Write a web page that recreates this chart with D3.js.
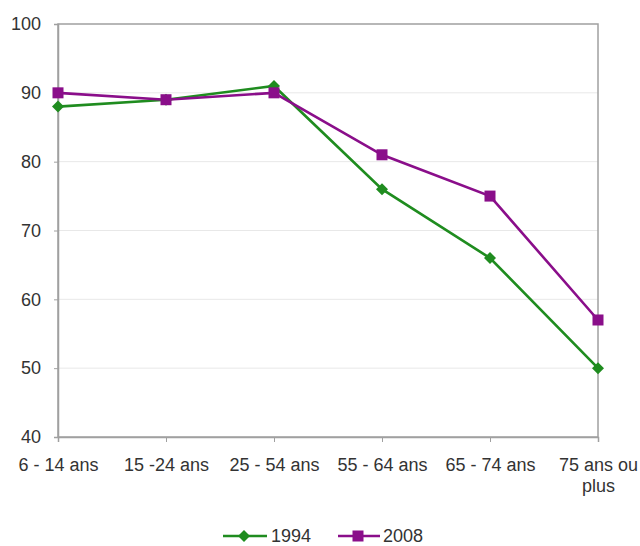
<!DOCTYPE html>
<html><head><meta charset="utf-8">
<script src="https://cdn.jsdelivr.net/npm/d3@7"></script>
<style>body{margin:0;background:#fff}text{font-family:"Liberation Sans",Arial,sans-serif;}</style>
</head><body>
<svg id="c" width="640" height="546"></svg>
<script>
const categories = ["6 - 14 ans","15 -24 ans","25 - 54 ans","55 - 64 ans","65 - 74 ans","75 ans ou plus"];
const values1994 = [88, 89, 91, 76, 66, 50];
const values2008 = [90, 89, 90, 81, 75, 57];
const seriesNames = ["1994","2008"];
const yTicks = [40,50,60,70,80,90,100];

const svg = d3.select("#c");
const L=58, R=598, T=24, B=437;
const FS=18, TXT="#333";
const x = d3.scalePoint().domain(categories).range([L,R]);
const y = d3.scaleLinear().domain([40,100]).range([B,T]);

// gridlines
svg.append("g").selectAll("line").data(yTicks.slice(1,-1)).join("line")
  .attr("x1",L).attr("x2",R).attr("y1",d=>y(d)).attr("y2",d=>y(d))
  .attr("stroke","#e8e8e8").attr("stroke-width",1);
// border
svg.append("rect").attr("x",L).attr("y",T).attr("width",R-L).attr("height",B-T)
  .attr("fill","none").attr("stroke","#a0a0a0").attr("stroke-width",1.5);

// y axis
const ya = svg.append("g").attr("transform",`translate(${L},0)`)
  .call(d3.axisLeft(y).tickValues(yTicks).tickSize(4).tickPadding(13));
ya.select(".domain").attr("stroke","#a0a0a0").attr("stroke-width",1.5);
ya.selectAll(".tick line").attr("stroke","#a0a0a0");
ya.selectAll("text").attr("font-size",FS).attr("fill",TXT).attr("font-family","Liberation Sans, Arial, sans-serif");

// x axis
const xa = svg.append("g").attr("transform",`translate(0,${B})`)
  .call(d3.axisBottom(x).tickSize(5).tickPadding(16));
xa.select(".domain").attr("stroke","#a0a0a0").attr("stroke-width",1.5);
xa.selectAll(".tick line").attr("stroke","#a0a0a0");
xa.selectAll("text").attr("font-size",FS).attr("fill",TXT).attr("font-family","Liberation Sans, Arial, sans-serif")
  .each(function(d){
    if(d==="75 ans ou plus"){
      const t=d3.select(this); t.text(null);
      t.append("tspan").attr("x",0).attr("dy","0.71em").text("75 ans ou");
      t.append("tspan").attr("x",0).attr("dy","1.2em").text("plus");
      t.attr("dy",null);
    }
  });

const line = d3.line().x((d,i)=>x(categories[i])).y(d=>y(d));
const green="#1f8c1f", purple="#8a0e8a";

svg.append("path").datum(values1994).attr("d",line).attr("fill","none").attr("stroke",green).attr("stroke-width",2.6);
svg.append("path").datum(values2008).attr("d",line).attr("fill","none").attr("stroke",purple).attr("stroke-width",2.6);

const diamond = "M0,-6L6,0L0,6L-6,0Z";
svg.append("g").selectAll("path").data(values1994).join("path")
  .attr("transform",(d,i)=>`translate(${x(categories[i])},${y(d)})`).attr("d",diamond).attr("fill",green);
svg.append("g").selectAll("rect").data(values2008).join("rect")
  .attr("x",(d,i)=>x(categories[i])-5.5).attr("y",d=>y(d)-5.5).attr("width",11).attr("height",11).attr("fill",purple);

// legend
const lg = svg.append("g");
const ly = 536;
lg.append("line").attr("x1",223).attr("x2",267).attr("y1",ly).attr("y2",ly).attr("stroke",green).attr("stroke-width",2.6);
lg.append("path").attr("transform",`translate(244,${ly})`).attr("d",diamond).attr("fill",green);
lg.append("text").attr("x",271).attr("y",ly+6).attr("font-size",FS).attr("fill",TXT).text(seriesNames[0]);
lg.append("line").attr("x1",338).attr("x2",380).attr("y1",ly).attr("y2",ly).attr("stroke",purple).attr("stroke-width",2.6);
lg.append("rect").attr("x",352.5).attr("y",ly-5.5).attr("width",11).attr("height",11).attr("fill",purple);
lg.append("text").attr("x",383).attr("y",ly+6).attr("font-size",FS).attr("fill",TXT).text(seriesNames[1]);
</script>
</body></html>
